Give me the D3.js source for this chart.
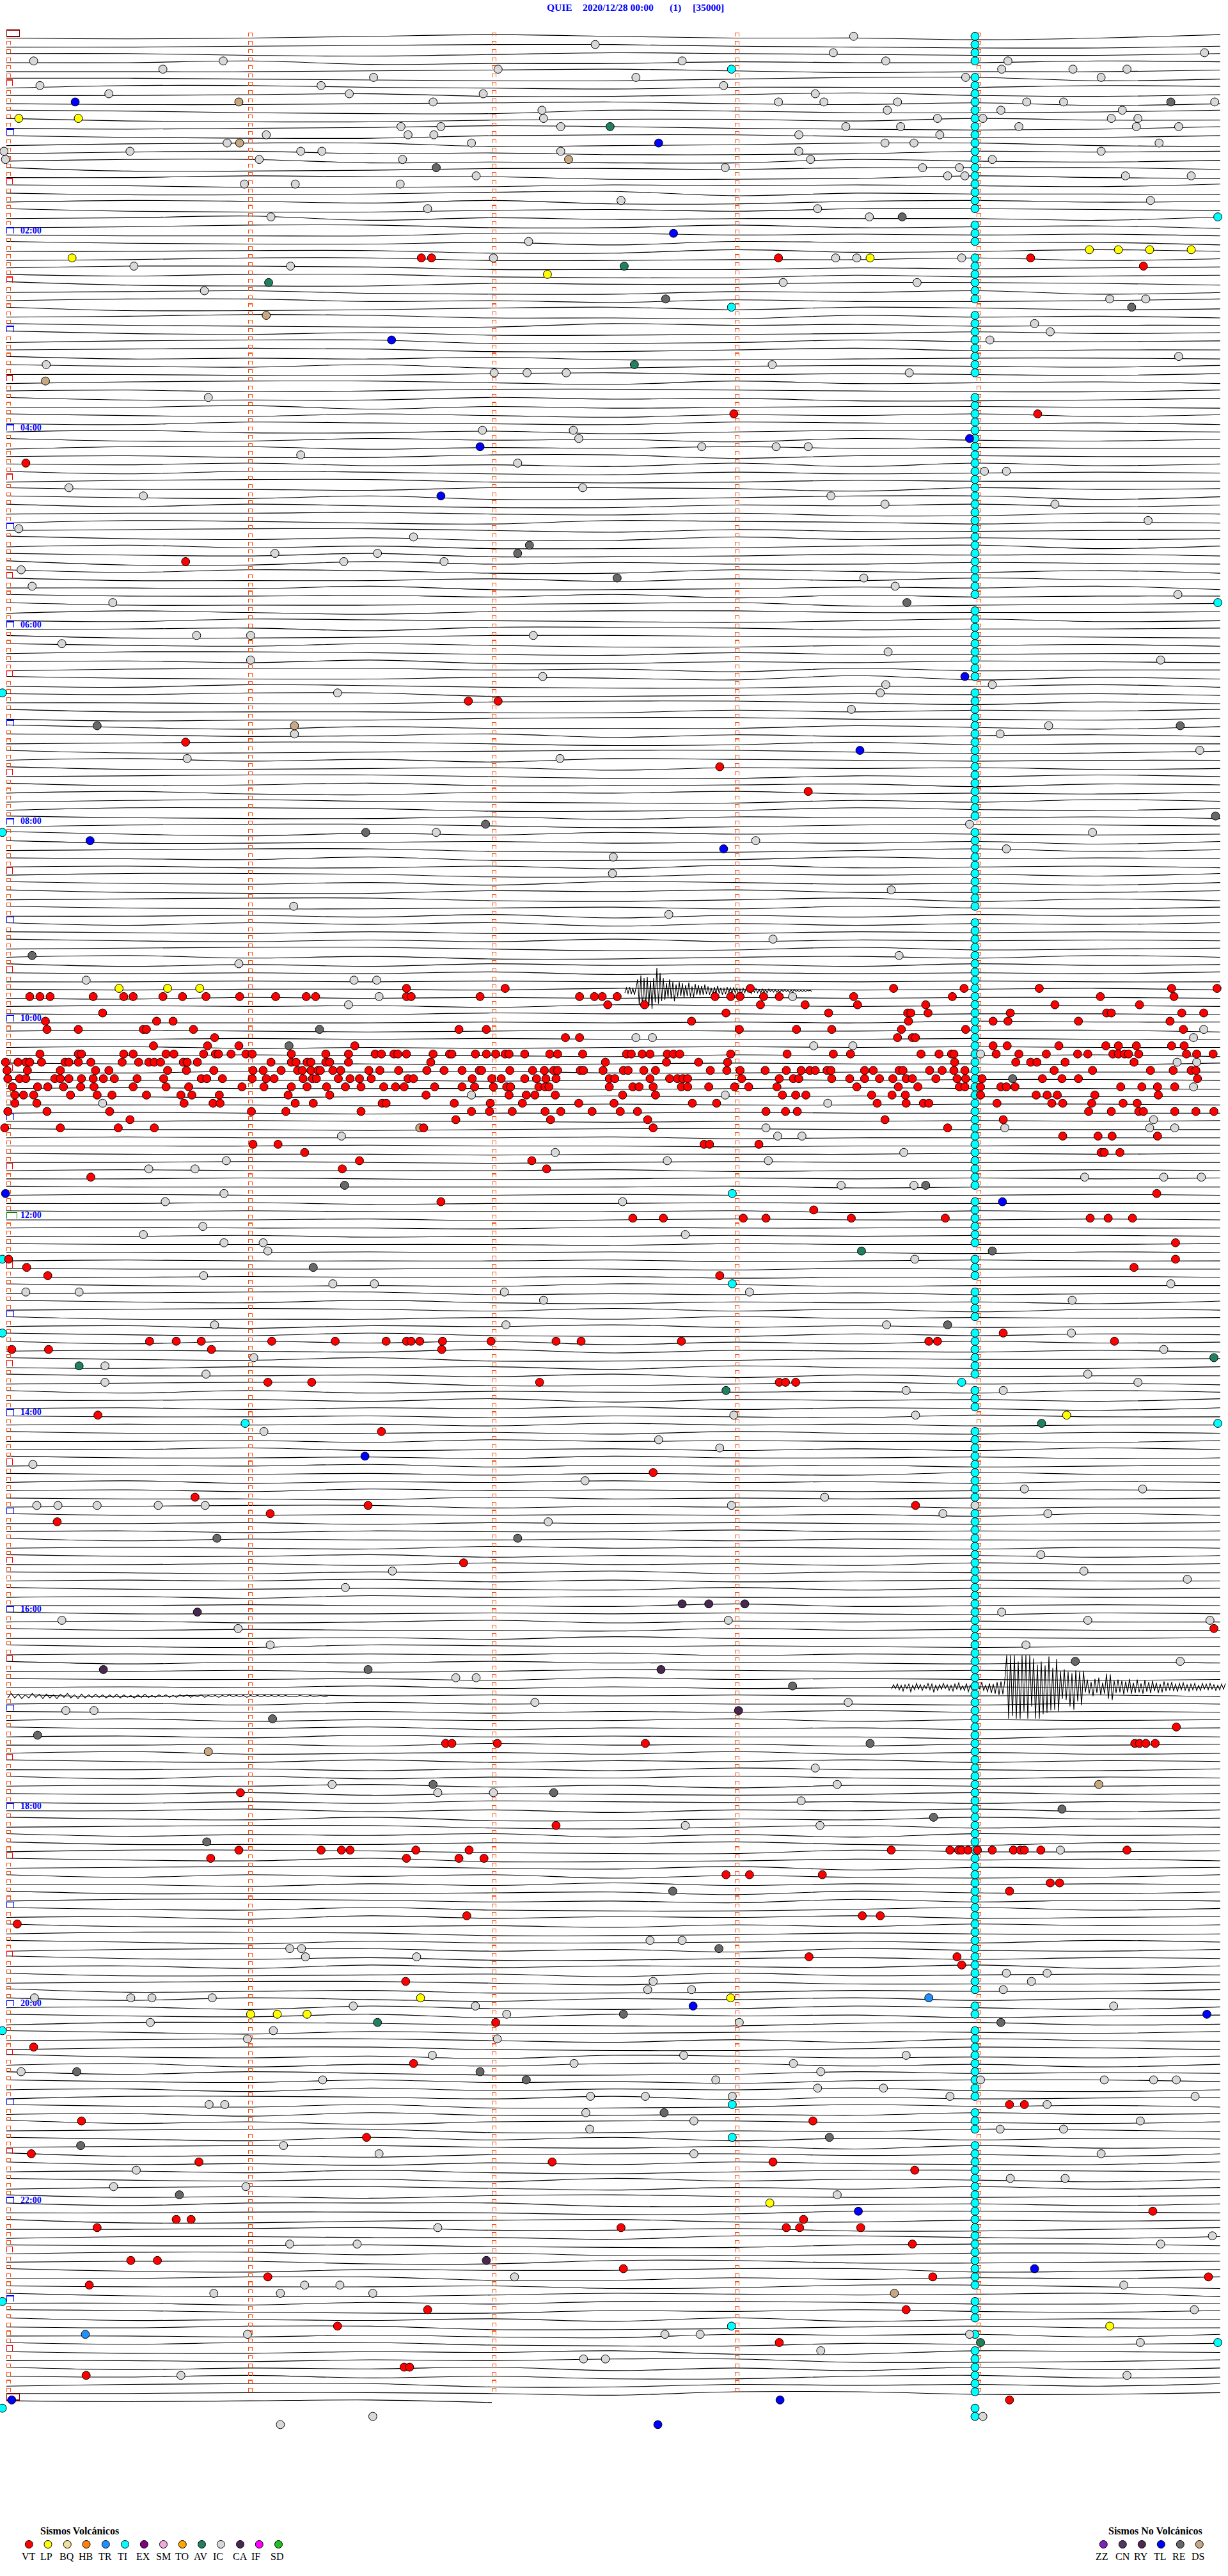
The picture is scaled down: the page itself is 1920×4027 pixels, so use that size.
<!DOCTYPE html>
<html><head><meta charset="utf-8">
<style>html,body{margin:0;padding:0;background:#fff}svg{display:block}text{font-family:"Liberation Serif",serif}</style>
<script src="https://cdn.jsdelivr.net/npm/d3@7"></script></head><body><div id="c"></div>
<script>
const titleParts=[["QUIE",855],["2020/12/28 00:00",911],["(1)",1047],["[35000]",1083]];
const hourLabels=[[24,"02:00"],[48,"04:00"],[72,"06:00"],[96,"08:00"],[120,"10:00"],[144,"12:00"],[168,"14:00"],[192,"16:00"],[216,"18:00"],[240,"20:00"],[264,"22:00"]];
const minuteOffsets=[11,320,631,941,1250];
const legendVolc=[["VT","#ff0000"],["LP","#ffff00"],["BQ","#f0e0a0"],["HB","#ff8010"],["TR","#2090ff"],["TI","#00ffff"],["EX","#800080"],["SM","#f0a8e0"],["TO","#ffa500"],["AV","#208060"],["IC","#d8d8d8"],["CA","#482850"],["IF","#ff00ff"],["SD","#20c020"]];
const legendNoVolc=[["ZZ","#8020c0"],["CN","#503860"],["RY","#502850"],["TL","#0000ff"],["RE","#686868"],["DS","#c8a880"]];
// Events: [row, offsets along the 5-minute row ...]
const IC=[[0,1090],[1,760],[2,1064,1538],[3,43,285,871,1131,1287],[4,208,636,1279,1370,1439],[5,477,812,1233,1406],[6,51,410,924],[7,139,446,617,1041],[8,553,994,1052,1146,1311,1358,1551],[9,692,1133,1278,1433],[10,694,1197,1255,1419,1453],[11,512,563,716,1080,1150,1301,1451,1505],[12,340,521,554,1020,1200],[13,290,602,1130,1167,1480],[14,5,166,384,411,716,1020,1406],[15,7,331,514,1035,1267],[16,926,1178,1225],[17,608,1210,1232,1437,1521],[18,312,377,511],[20,793,1469],[21,546,1044],[22,346,1110],[25,675],[27,630,1067,1094,1228],[28,171,371],[30,1000,1171],[31,261],[32,1417,1463],[35,1321],[36,1341],[37,1264],[39,1505],[40,59,986],[41,631,673,723,1161],[44,266],[48,616,732],
[49,739],[50,896,991,1032],[51,384],[52,661],[53,1257,1285],[55,88,744],[56,183,1061],[57,1130,1347],[59,1466],[60,24],[61,528],[63,351,482],[64,439,567],[65,27],[66,1103],[67,41,1143],[68,1504],[69,144],[73,251,320,681],[74,79],[75,1134],[76,320,1482],[78,693],[79,1131,1267],[80,431,1124],[82,1087],[84,1339],[85,376,1277],[87,1532],[88,239,715],[96,1238],[97,557,1395],[98,965],[99,1285],[100,783],
[102,782],[104,1138],[106,375],[107,854],[110,987],[112,1148],[113,305],[115,110,452,481],[117,484,1012],[118,445],[121,1537],[122,812,833,1524],[123,1039,1089],[124,1252],[125,1503,1528],[128,1524],[129,602,926],[130,131,1057],[132,1473],[133,978,1283,1468,1500],[134,436,993,1024],[136,709,1154],[137,289,852,981],[138,190,249],[139,1385,1486,1534],[140,1074,1167],[141,286],[142,211,795],[145,259],[146,183,875],[147,286,336],[148,342],[149,1168],[151,260],[152,425,478,1495],[153,33,101,644,957],[154,694,1369],
[157,274,646,1132],[158,1368],[160,1486],[161,324],[162,134],[163,263,1389],[164,134,1453],[165,1157,1281],[168,937,1169],[170,337],[171,841],[172,919],[174,42],[176,747],[177,1308,1459],[178,1053],[179,47,74,124,202,262,934,1245],[180,1204,1338],[181,700],[185,1329],[187,501,1384],[188,1516],[189,441],[192,1279],[193,79,930,1389,1545],[194,304],[196,345,1310],[198,1507],[200,582,608],[203,683,1083],[204,84,120],
[211,1041],[213,424,1069],[214,559,630],[215,1023],[218,875,1047],[221,1354],[232,830,871],[233,370,385],[234,390,532],[236,1285,1337],[237,834,1317],[238,827,883,1281],[239,44,167,194,271],[240,451,607,1422],[241,647],[242,192,944],[243,349],[244,316,635],[246,552,873,1157],[247,733,1013],[248,27,1048],[249,412,914,1252,1410,1473,1502],[250,1044,1128],[251,754,824,935,1213,1526],[252,267,287,1337],[253,748],[254,886,1456],[255,753,1277,1358],[257,362],[258,484,886,1406],[260,174],
[261,1290,1360],[262,145,314],[263,1069],[267,559],[268,1548],[269,370,456,1482],[273,657],[274,389,434,1435],[275,273,358,476],[277,1525],[280,316,849,894,1238],[281,1456],[282,1048],[283,745,773],[285,231,1439],[290,476,1255],[291,358]];
const VT=[[27,538,551,994,1316],[28,1460],[46,937,1325],[52,33],[64,237],[81,598,636],[86,237],[89,919],[92,1032],
[116,519,645,958,1141,1231,1327,1496,1554],[117,38,51,64,119,158,170,208,233,263,306,352,391,403,519,525,613,740,759,769,788,913,933,945,975,995,1090,1216,1405,1499],[118,776,823,971,1028,1095,1182,1347,1455],[119,131,927,1058,1159,1163,1185,1290,1413,1419,1509,1537],[120,58,200,221,883,1160,1268,1287,1377,1494],[121,60,100,183,187,247,586,621,944,1017,1062,1151,1233,1511],[122,274,722,740,1146,1165,1169],[123,196,265,305,453,1268,1286,1352,1412,1428,1451,1496,1512],
[124,51,100,104,158,170,212,222,260,275,279,295,314,322,372,416,445,479,487,503,508,519,553,574,577,607,621,633,645,650,670,702,712,744,800,806,820,830,852,860,868,933,1005,1064,1086,1176,1199,1215,1218,1272,1301,1336,1376,1389,1421,1428,1436,1441,1454,1515,1528,1549],
[125,7,23,33,38,53,83,88,100,116,156,177,190,197,205,234,239,252,346,372,378,392,397,416,421,445,550,773,851,892,929,1219,1297,1316,1324,1360,1448],
[126,9,35,77,122,139,214,238,273,323,336,359,380,386,397,406,409,425,435,471,485,509,545,567,590,612,615,651,680,695,707,712,741,745,770,796,802,822,837,907,928,945,977,1004,1023,1034,1041,1056,1061,1104,1115,1148,1153,1187,1203,1218,1232,1346,1395,1469,1498,1521,1527],
[127,10,25,33,70,77,88,104,119,132,146,175,209,257,264,284,322,340,350,387,399,404,432,447,459,474,521,528,603,628,640,670,685,697,710,778,785,830,855,865,872,878,947,995,1013,1020,1062,1085,1104,1123,1140,1157,1165,1195,1222,1233,1254,1331,1356,1377,1529],
[128,16,48,61,81,103,120,170,212,241,309,337,372,392,417,441,461,490,505,516,555,590,606,630,647,652,688,696,701,778,808,816,834,870,878,905,938,956,992,1094,1147,1172,1225,1232,1252,1278,1285,1296,1431,1458,1478,1500],
[129,19,30,43,90,124,143,187,231,245,280,368,421,544,650,672,683,709,795,837,999,1016,1029,1113,1139,1156,1252,1323,1337,1350,1398,1479],
[130,19,47,235,272,281,377,400,488,493,580,626,667,739,784,884,915,1120,1157,1179,1186,1273,1343,1357,1394,1434,1452],
[131,10,60,140,321,365,461,602,625,654,696,716,756,792,814,978,1003,1018,1390,1419,1454,1460,1500,1527,1550],
[132,166,582,703,827,1130,1281],[133,6,77,151,197,541,834,1210],[134,1357,1402,1420,1478],[135,323,355,899,906,969],[136,389,1406,1410,1430],[137,459,679],[138,437,698],[139,116],[141,1477],[142,563],[143,1039],[144,808,847,949,978,1087,1207,1392,1415,1446],[147,1501],[149,11,1501],[150,34,1448],[151,61,919],
[158,1281],[159,191,225,257,347,428,493,519,525,536,565,627,710,742,870,1186,1197,1423],[160,15,62,270,564],[164,342,398,689,995,1003,1016],[168,125],[170,487],[175,834],[178,249],[179,470,1169],[180,345],[181,73],[186,592],[194,1550],[206,1502],
[208,569,577,635,824,1449,1455,1463,1475],[214,307],[218,710],[221,305,410,436,447,531,599,1138,1213,1224,1228,1236,1248,1267,1294,1303,1308,1329,1439],[222,269,519,586,618],[224,927,957,1050],[225,1341,1353],[226,1289],[229,596,1101,1124],[230,22],[234,1033,1222],[235,1228],[237,518],[242,633],[245,43],[247,528],[252,1289,1308],[254,104,1038],[256,468],[258,40],[259,254,705,987],[260,1168],
[265,1472],[266,225,244,1026],[267,124,793,1004,1021,1099],[269,1165],[271,167,201],[272,796],[273,342,1191,1543],[274,114],[277,546,1157],[279,431],[281,995],[284,516,523],[285,110],[288,1289]];
const LP=[[10,24,100],[26,1391,1428,1468,1521],[27,92,1111],[29,699],[116,152,214,255],[168,1362],[239,537,933],[241,320,354,392],[264,983],[279,1417]];
const TI=[[4,934],[22,1555],[33,934],[69,1555],[80,3],[97,3],[141,935],[149,3],[152,935],[158,3],[164,1228],[169,313,1555],[243,3],[252,935],[256,935],[276,3],[279,934],[281,1555],[289,3]];
const AV=[[11,779],[28,797],[30,343],[40,810],[148,1100],[161,1550],[162,101],[165,927],[169,1330],[242,482],[281,1252]];
const TL=[[8,96],[13,841],[24,860],[37,500],[49,1238],[50,613],[56,563],[78,1232],[87,1098],[98,115],[99,924],[141,7],[142,1280],[173,466],[240,885],[241,1541],[265,1096],[272,1321],[288,15,996],[291,840]];
const RE=[[8,1495],[16,557],[22,1152],[32,850],[33,1445],[62,676],[63,661],[66,788],[69,1158],[84,124,1507],[95,1552],[96,620],[97,467],[112,41],[121,408],[123,369],[127,1293],[140,440,1182],[148,1267],[150,400],[157,1210],[183,277,661],[198,1373],[199,470],[201,1012],[205,348],[207,48],[208,1111],[213,553],[214,707],[216,1356],[217,1192],[220,264],[226,859],[233,918],[241,796],[242,1278],[248,98,613],[249,672],[253,848],[256,1059],[257,103],[263,229]];
const DS=[[8,305],[13,306],[15,726],[34,340],[42,58],[84,376],[133,536],[209,266],[213,1403],[275,1142]];
const CA=[[191,871,905,951],[192,252],[199,132,844],[204,943],[271,621]];
const TR=[[239,1186],[280,109]];
const tiColumnOffset=1245;
const tiColumnSpans=[[0,3],[5,21],[23,25],[27,32],[34,41],[44,68],[70,78],[80,95],[97,106],[108,140],[142,147],[149,151],[153,156],[158,163],[165,167],[170,178],[180,238],[240,241],[243,251],[253,255],[257,274],[276,278],[280,280],[282,287],[289,290]];
// Trace shape per row: one digit per knot, 0 = highest on the drum, 9 = lowest.
const traceKnots=[8,163,318,473,628,783,938,1093,1248,1403,1558];
const traceRows=[
"56531355751","66543356775","44675345664","55376645534","66654357664","44567753375","63356755534","55436642564","56654356475","34677346653","36775446355","56542356763",
"46774335664","64337653367","64365776343","53376773564","37764453335","55344776356","45776454563","46653274556","53463774354","36775463345","54274655573","65336636547",
"56663354546","35664734447","55447736535","65336655364","53347775654","35336774654","26774553346","54367745375","53365746653","37764363465","54236673546","35677354655",
"25647765354","64337763554","54347753655","36564776556","35637754564","55664354564","64335736546","54653345664","36663547764","55374654456","35635745364","56345634546",
"53664753345","36635473564","63364535455","54663374455","45365737364","36346746545","64336764555","35563347354","35637753374","36357745364","54435647745","63467345756",
"54335746655","25647736465","53647764374","35637764546","27736466456","36347735647","36664746355","55637764537","35546374655","36665437654","63574335554","56345675365",
"65473346554","36653345456","35635775546","53346746655","54637756456","64335473655","35664572746","56346775536","45337764546","55664335746","36667746453","57664335564",
"25746663574","34653746546","54335763655","36654335764","53647345655","36654745465","54335774535","36536654745","53674536564","64356774635","63347763564","35664745546",
"64335764345","25746354565","36654656474","54336775364","45637763545","54664736546","53347745463","35647346574","36774536664","54336753746","35665463564","55463746354",
"36353746453","45646664545","35646364545","54335763654","53647754635","36463546354","45453645453","55454545455","45445345435","56454545445","54546345445","45553445445",
"55554545344","54565455446","55454555455","54656545455","55455645546","45556545564","56454665555","45556545445","54555654556","45655454555","55565455445","54565545555",
"55455655454","45565445555","54555465555","55545565544","45556555454","55456545555","54555465545","55456545454","45555546555","54555455545","55465545555","45455546455",
"55546545545","54556455455","55465545445","45555645554","55545455645","54555465455","45554564555","55455465545","35656346555","54336564655","35636756574","54346364745",
"36664635454","54745364655","35636774645","36353746354","54563745646","35637764554","56454735664","35546374655","54337753546","36364554635","55463745463","54645364574",
"45546456355","54546354655","35554635645","55463545564","55365464635","35546355465","54536454654","45546456355","53645354645","54635456545","45563545454","54336454655",
"35545454635","55464545654","54645535454","36455464555","54563545645","35536455464","55463546354","45645364555","54536465455","35545636454","54635455455","55455636545",
"35554545645","54653645455","35455635455","55546355454","35634545655","54545364555","36453545645","55465345455","45546354565","54536465455","36354545546","54635455645",
"45546453545","53645536454","35536454654","54635455745","55463546454","53654636465","35636453645","55464635564","36364535645","54536474554","45364565354","56463454645",
"55364745364","35637756354","54336753645","36453747354","36664536745","53346773554","35637764546","54335637454","36353746763","55746364545","36665473564","53346573645",
"35636775364","54736453654","36665746354","53347764565","35746654635","64336473564","25647754645","54736456374","36654736545","54335746664","26547764553","36357453645",
"54736763574","35637354754","63346774365","35746654564","54335747356","64336775346","25647346564","53746336474","36357763545","35636574335","54736453675","63346374654",
"35637763546","54736656354","26474335564","54337756346","35736374645","54335647365","26574335463","36574635663","54636753345","35647364574","64335746364","36574356654",
"36333775464","55445763345","37754366454","55436647753","64455733564","45546774335","53364776445","54477336654","36745533764","55337746453","45554763357","36775345437",
"55746334665","34677453564","36564737545","45337764355","55646734363","35336774554","46645377345","55645337764","36453747364","45364774365","64337745463","55445733664",
"45436"];
// Seismic bursts, displacement in px, sampled along the row
const burstA=[3,-5,4,-6,5,-4,6,-5,-18,22,-24,26,-20,25,-22,24,-16,28,-20,18,-36,20,-28,16,-20,14,-12,10,-18,12,-14,16,-10,9,-14,8,-12,10,-9,8,-13,9,-7,10,-11,6,-9,7,-8,6,-10,5,-7,6,-5,7,-6,5,-8,4,-5,6,-4,5,-6,3,-5,4,-5,3,-4,5,-3,4,-4,3,-5,2,-3,4,-3,2,-4,3,-2,3,-3,2,-2,3,-3,1,-2,2,-2,2,-1,2,-2,1,-2,1,-1,2,-1,1,-2,1,-1,1,-1,1,-1,1,-1,0,-1,1];
const burstB=[3,-4,2,-5,4,-3,6,-4,2,-5,7,-3,4,-6,3,-4,5,-3,2,-6,4,-5,8,-3,5,-4,3,-6,2,-4,5,-3,6,-5,3,-7,4,-2,5,-6,7,-3,4,-5,6,-4,3,-8,5,-3,7,-6,9,-5,10,-8,12,-9,11,-10,-50,49,-50,45,-50,49,-40,49,-50,38,-50,49,-50,30,-45,49,-35,49,-40,42,-34,40,-48,36,-30,35,-44,38,-25,18,-28,20,-24,30,-22,35,-26,22,-24,28,-25,8,-12,10,-8,14,-13,9,-15,12,-7,10,-21,18,-20,20,-10,9,-12,8,-10,11,-9,8,-13,10,-7,9,-12,8,-6,10,-11,7,-8,9,-10,6,-7,9,-5,8,-9,6,-7,5,-8,6,-5,7,-6,4,-7,5,-4,6,-5,4,-6,5,-3,5,-6,3,-5,4,-6,3,-4,5,-3,4,-5,3,-6];
const burstC=[3,-4,3,-3,4,-2,3,-4,2,-3,4,-3,3,-2,4,-3,2,-4,3,-2,4,-3,3,-2,2,-3,2,-2,3,-2,2,-3,3,-2,2,-1,3,-2,2,-3,2,-1,2,-2,1,-2,2,-1,2,-2,1,-2,2,-1,1,-2,2,-1,1,-1,2,-1,1,-2,1,-1,1,-1,2,-1,1,-1,1,-1,1,-1,1,-1,1,-1,1,0,1,-1,0,1,-1,1,0,-1,1,0];
const bursts=[{row:116,start:977,step:2.5,base:4,vals:burstA},{row:201,start:1394,step:3,base:2,vals:burstB},{row:202,start:12,step:5.5,base:3,vals:burstC}];

const W=1920,H=4027,rowY0=56.8,rowStep=12.83;
const xScale=d3.scaleLinear().domain([0,1568]).range([0,1920]);
const rowScale=d3.scaleLinear().domain([0,288]).range([rowY0,rowY0+288*rowStep]);
const dispScale=d3.scaleLinear().domain([0,9]).range([-4,8]);
const svg=d3.select("#c").append("svg").attr("width",W).attr("height",H).attr("viewBox",[0,0,W,H]);
svg.append("g").selectAll("text").data(titleParts).join("text").attr("x",d=>d[1]).attr("y",17).attr("fill","#0000ff").attr("font-size",15.5).attr("font-weight","bold").text(d=>d[0]);
// traces
const smooth=d3.line().curve(d3.curveCatmullRom.alpha(.5));
const straight=d3.line();
const gT=svg.append("g").attr("fill","none").attr("stroke","#000").attr("stroke-width",1.1);
gT.selectAll("path").data(traceRows).join("path").attr("d",(s,r)=>smooth([...s].map((c,i)=>[xScale(traceKnots[i]),rowScale(r)+dispScale(+c)])));
// bursts
const gB=svg.append("g").attr("fill","none").attr("stroke","#000").attr("stroke-width",1.1);
gB.selectAll("path").data(bursts).join("path").attr("d",b=>straight(b.vals.map((v,i)=>[b.start+i*b.step,rowScale(b.row)+b.base+v])));
// minute ticks
const tickData=[];
d3.range(0,289).forEach(r=>minuteOffsets.forEach((o,c)=>{
  if(c>0&&r>287)return;
  let col="#ff5010",w=6,h=5.5,sw=1.1,closed=false;
  if(c===0){
    if(r===0||r===288){col="#8b0000";w=20;h=10;sw=1.6;closed=true;}
    else if(r===144){col="#008000";w=16;h=9;sw=1.5;}
    else if(r%12===0){col="#0000ff";w=11;h=9;sw=1.5;}
    else if(r%12===6){col="#ff0000";w=9;h=9;sw=1.3;}
  }
  tickData.push({r,o,c,col,w,h,sw,closed});
}));
const tickPath=d=>{const x=xScale(d.o)-3,y=rowScale(d.r)+.3;return `M${x},${y}V${y-d.h}H${x+d.w}V${y}`+(d.closed?"Z":"");};
svg.append("g").attr("fill","none").attr("shape-rendering","crispEdges").selectAll("path").data(tickData).join("path").attr("d",tickPath).attr("stroke",d=>d.col).attr("stroke-width",d=>d.sw);
svg.append("g").selectAll("text").data(hourLabels).join("text").attr("x",32).attr("y",d=>rowScale(d[0])).attr("fill","#0000ff").attr("font-size",14).attr("font-weight","bold").text(d=>d[1]);
// events
const tiColumn=tiColumnSpans.flatMap(([a,b])=>d3.range(a,b+1).map(r=>[r,tiColumnOffset]));
const groups=[[tiColumn,"#00ffff"],[TI,"#00ffff"],[AV,"#208060"],[CA,"#482850"],[IC,"#d8d8d8"],[DS,"#c8a880"],[RE,"#686868"],[TR,"#2090ff"],[TL,"#0000ff"],[LP,"#ffff00"],[VT,"#ff0000"]];
const marks=groups.flatMap(([list,color])=>list.flatMap(([r,...xs])=>xs.map(o=>({r,o,color}))));
svg.append("g").attr("stroke","#000").attr("stroke-width",1).selectAll("circle").data(marks).join("circle")
 .attr("cx",d=>xScale(d.o)).attr("cy",d=>rowScale(d.r)).attr("r",6.4).attr("fill",d=>d.color);
// legends
function legend(title,titleX,items,mx,lx){
  const g=svg.append("g");
  g.append("text").attr("x",titleX).attr("y",3962).attr("font-size",16).attr("font-weight","bold").text(title);
  g.selectAll("circle").data(items).join("circle").attr("cx",(d,i)=>mx[i]).attr("cy",3977.5).attr("r",6).attr("fill",d=>d[1]).attr("stroke","#000").attr("stroke-width",1);
  g.selectAll("text.l").data(items).join("text").attr("class","l").attr("x",(d,i)=>lx[i]).attr("y",4002).attr("font-size",16).text(d=>d[0]);
}
legend("Sismos Volcánicos",63,legendVolc,[45.3,75,105.3,135,165.3,195.5,225.3,255.5,285.3,315.5,345.3,375.5,405.3,435.5],[34,63,93,123,154,184,213,244,274,303,333,364,393,423]);
legend("Sismos No Volcánicos",1733,legendNoVolc,[1725.3,1755.3,1785.3,1815.3,1845.3,1875.3],[1713,1744,1773,1804,1833,1863]);
</script></body></html>
